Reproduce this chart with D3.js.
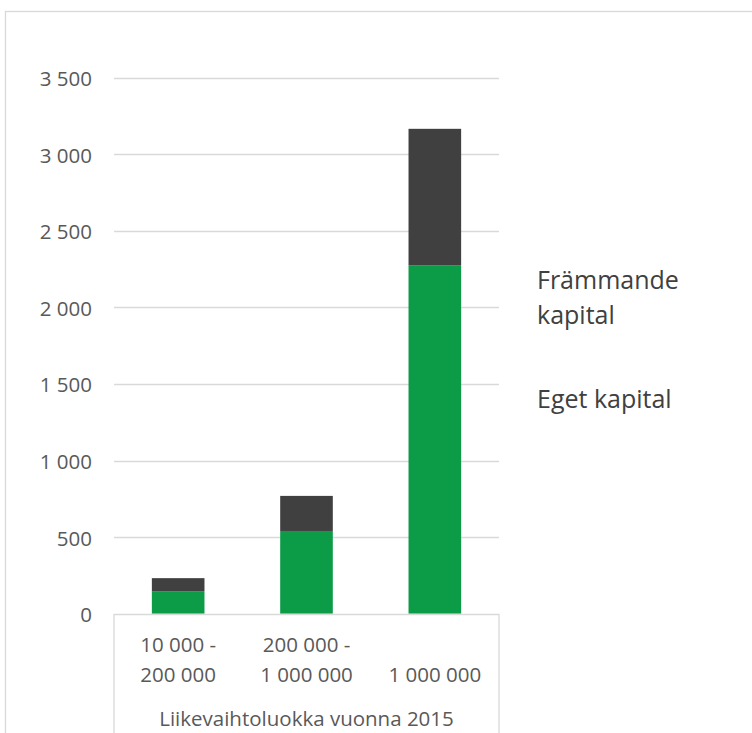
<!DOCTYPE html>
<html><head><meta charset="utf-8">
<script src="https://cdn.jsdelivr.net/npm/d3@7"></script>
<style>body{margin:0;background:#fff}svg{display:block}</style>
</head><body>
<svg id="c" width="752" height="733"></svg>
<script>
const categories = [["10 000 -","200 000"],["200 000 -","1 000 000"],["","1 000 000"]];
const egetKapital = [147, 540, 2275];
const frammandeKapital = [85, 229, 890];
const yTicks = [0,500,1000,1500,2000,2500,3000,3500];
const seriesNames = ["Eget kapital","Främmande kapital"];
const axisTitle = "Liikevaihtoluokka vuonna 2015";

const svg = d3.select("#c");
const font = "'Open Sans', sans-serif";
// outer chart border
svg.append("rect").attr("x",5.5).attr("y",11.5).attr("width",800).attr("height",800)
  .attr("fill","none").attr("stroke","#d9d9d9").attr("stroke-width",1.3);

const x0 = 114, x1 = 499;
const y = d3.scaleLinear().domain([0,3500]).range([613.7, 77.5]);
const x = d3.scaleBand().domain(d3.range(categories.length)).range([x0,x1]).paddingInner(0.59).paddingOuter(0.295);

// gridlines
svg.append("g").selectAll("line").data(yTicks.slice(1)).join("line")
  .attr("x1",x0).attr("x2",x1).attr("y1",d=>Math.round(y(d))+0.5).attr("y2",d=>Math.round(y(d))+0.5)
  .attr("stroke","#d9d9d9").attr("stroke-width",1.3);

// y labels
const fmt = v => d3.format(",")(v).replace(/,/g," ");
svg.append("g").selectAll("text").data(yTicks).join("text")
  .attr("x",92).attr("y",d=>y(d)+8.5).attr("text-anchor","end")
  .attr("font-family",font).attr("font-size",20.5).attr("fill","#595959").text(fmt);

// stacked bars
const data = categories.map((c,i)=>({i, eget:egetKapital[i], fr:frammandeKapital[i]}));
const stack = d3.stack().keys(["eget","fr"])(data);
const colors = {eget:"#0c9c48", fr:"#404040"};
svg.append("g").selectAll("g").data(stack).join("g").attr("fill",s=>colors[s.key])
  .selectAll("rect").data(s=>s).join("rect")
  .attr("x",d=>x(d.data.i)).attr("width",x.bandwidth())
  .attr("y",d=>y(d[1])).attr("height",d=>y(d[0])-y(d[1]));

// category axis box
svg.append("path").attr("d",`M${x0},760 V${Math.round(y(0))+0.5} H${x1} V760`)
  .attr("fill","none").attr("stroke","#d9d9d9").attr("stroke-width",1.3);

// category labels
const cg = svg.append("g");
categories.forEach((c,i)=>{
  c.forEach((line,j)=>{
    cg.append("text").attr("x",x(i)+x.bandwidth()/2).attr("y",652+j*30)
      .attr("text-anchor","middle").attr("font-family",font).attr("font-size",20.5)
      .attr("fill","#595959").text(line);
  });
});
svg.append("text").attr("x",(x0+x1)/2).attr("y",726).attr("text-anchor","middle")
  .attr("font-family",font).attr("font-size",20.5).attr("fill","#595959").text(axisTitle);

// legend (text only)
const lg = svg.append("g").attr("font-family",font).attr("font-size",25).attr("fill","#404040");
lg.append("text").attr("x",537).attr("y",289).text("Främmande");
lg.append("text").attr("x",537).attr("y",324).text("kapital");
lg.append("text").attr("x",537).attr("y",408).text(seriesNames[0]);
</script>
</body></html>
